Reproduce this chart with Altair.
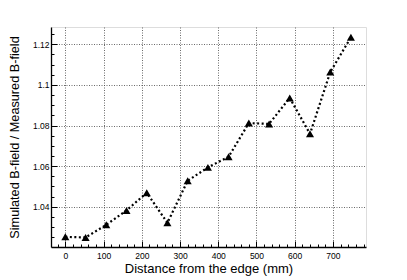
import altair as alt
import pandas as pd

distance_mm = [0, 53, 107, 160, 213, 267, 320, 373, 427, 480, 533, 587, 640, 693, 747]
ratio = [1.0252, 1.0249, 1.0311, 1.0382, 1.0469, 1.0321, 1.0528, 1.0594, 1.0646,
         1.0812, 1.0808, 1.0936, 1.0759, 1.1063, 1.1234]

x_major = [0, 100, 200, 300, 400, 500, 600, 700]
x_minor = list(range(-20, 781, 20))
y_major = [1.04, 1.06, 1.08, 1.10, 1.12]
y_minor = [round(1.025 + 0.005 * i, 3) for i in range(21)]

x_domain = [-37.5, 786.5]
y_domain = [1.0202, 1.1285]

df = pd.DataFrame({"d": distance_mm, "r": ratio})

W, H = 315, 220
FONT = "Liberation Sans"

def xs(axis):
    return alt.X("d:Q", scale=alt.Scale(domain=x_domain, nice=False, zero=False), axis=axis)

def ys(axis):
    return alt.Y("r:Q", scale=alt.Scale(domain=y_domain, nice=False, zero=False), axis=axis)

base = alt.Chart(df)

axes_layer = base.mark_point(opacity=0).encode(
    x=xs(alt.Axis(orient="bottom", values=x_major, title="Distance from the edge (mm)",
                  ticks=False, tickSize=0, labelPadding=4, labelFontSize=8.5, labelFont=FONT,
                  labelColor="#000", domainColor="#000", domainWidth=1.3,
                  grid=True, gridColor="#444", gridDash=[1, 1.5], gridWidth=0.8,
                  titleFont=FONT, titleFontSize=13, titleFontWeight="normal", titleColor="#000",
                  titleX=W / 2, titleY=25.5, titleBaseline="alphabetic", titleAlign="center")),
    y=ys(alt.Axis(orient="left", values=y_major, format="~g", title="Simulated B-field / Measured B-field",
                  ticks=False, tickSize=0, labelPadding=2, labelFontSize=8.5, labelFont=FONT,
                  labelColor="#000", domainColor="#000", domainWidth=1.3,
                  grid=True, gridColor="#444", gridDash=[1, 1.5], gridWidth=0.8,
                  titleFont=FONT, titleFontSize=12.7, titleFontWeight="normal", titleColor="#000",
                  titleX=-33, titleY=H / 2, titleAngle=-90, titleBaseline="alphabetic", titleAlign="center")),
)

def tick_layer(xv, yv, size):
    return base.mark_point(opacity=0).encode(
        x=xs(alt.Axis(orient="top", offset=-H, values=xv, tickSize=size, tickColor="#000",
                      tickWidth=1, labels=False, domain=False, grid=False, title=None)),
        y=ys(alt.Axis(orient="right", offset=-W, values=yv, tickSize=size, tickColor="#000",
                      tickWidth=1, labels=False, domain=False, grid=False, title=None)),
    )

minor_layer = tick_layer(x_minor, y_minor, 3)
major_layer = tick_layer(x_major, y_major, 6)

line = base.mark_line(color="#000", strokeWidth=2.2, strokeDash=[2, 2.5]).encode(
    x=xs(None), y=ys(None)
)
points = base.mark_point(shape="triangle-up", filled=True, color="#000", opacity=1, size=65).encode(
    x=xs(None), y=ys(None)
)

chart = alt.layer(axes_layer, minor_layer, major_layer, line, points).resolve_scale(
    x="independent", y="independent"
).properties(
    width=W, height=H,
    autosize=alt.AutoSizeParams(type="none"),
    padding={"left": 43, "top": 19, "right": 25, "bottom": 29},
).configure_view(stroke="#444", strokeWidth=1).configure(background="white")

chart.save("out.html", embed_options={"renderer": "svg", "actions": False})
